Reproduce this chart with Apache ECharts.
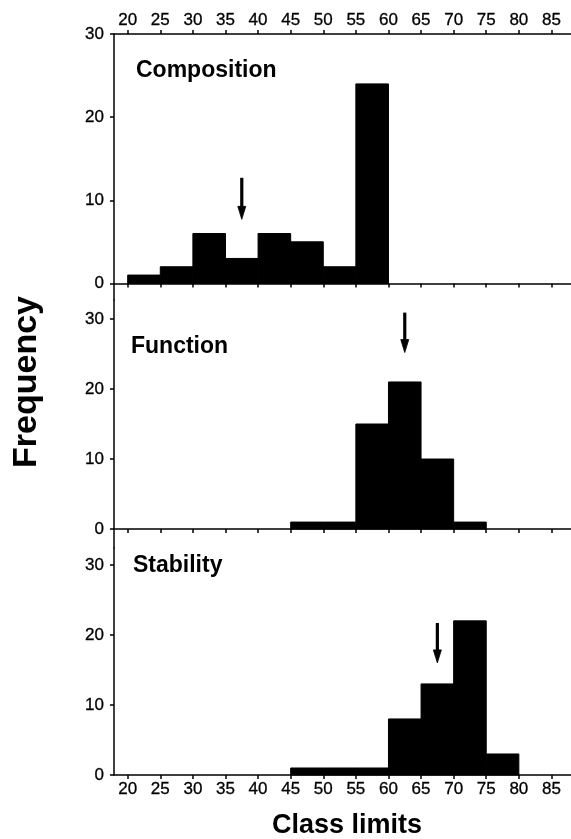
<!DOCTYPE html>
<html>
<head>
<meta charset="utf-8">
<script src="https://cdn.jsdelivr.net/npm/echarts@6/dist/echarts.min.js"></script>
<style>
  html, body { margin: 0; padding: 0; background: #fff; }
  #chart { width: 571px; height: 839px; }
</style>
</head>
<body>
<div id="chart"></div>
<script>
// class limits (bin starts) and frequencies
const binWidth = 5;
const compositionStart = [20, 25, 30, 35, 40, 45, 50, 55];
const compositionFreq = [1, 2, 6, 3, 6, 5, 2, 24];
const functionStart = [45, 50, 55, 60, 65, 70];
const functionFreq = [1, 1, 15, 21, 10, 1];
const stabilityStart = [45, 50, 55, 60, 65, 70, 75];
const stabilityFreq = [1, 1, 1, 8, 13, 22, 3];

// arrows: [x, top of shaft, tip]
const compositionArrow = [37.5, 12.7, 7.7];
const functionArrow = [62.5, 30.9, 25.2];
const stabilityArrow = [67.5, 21.7, 16.0];

const xTicks = [20, 25, 30, 35, 40, 45, 50, 55, 60, 65, 70, 75, 80, 85];
const yTicks = [0, 10, 20, 30];
const panelNames = ['Composition', 'Function', 'Stability'];

const FONT = '"Liberation Sans", Arial, sans-serif';
const axisColor = '#000';

const myChart = echarts.init(document.getElementById('chart'));

function renderBar(params, api) {
  const start = api.value(0);
  const count = api.value(1);
  const p0 = api.coord([start, 0]);
  const p1 = api.coord([start + binWidth, count]);
  return {
    type: 'rect',
    shape: { x: p0[0], y: p1[1], width: p1[0] - p0[0], height: p0[1] - p1[1] },
    style: { fill: '#000', stroke: '#000', lineWidth: 1 }
  };
}

function renderArrow(params, api) {
  const x = api.value(0);
  const top = api.coord([x, api.value(1)]);
  const tip = api.coord([x, api.value(2)]);
  const headLen = 13, headHalf = 4;
  return {
    type: 'group',
    children: [
      { type: 'line', shape: { x1: top[0], y1: top[1], x2: tip[0], y2: tip[1] - headLen + 1 },
        style: { stroke: '#000', lineWidth: 3.2 } },
      { type: 'polygon',
        shape: { points: [[tip[0] - headHalf, tip[1] - headLen], [tip[0] + headHalf, tip[1] - headLen], [tip[0], tip[1]]] },
        style: { fill: '#000', stroke: '#000', lineWidth: 0.8 } }
    ]
  };
}

function xAxisOf(gridIndex, position, showLabels, onZero) {
  return {
    gridIndex: gridIndex,
    type: 'value',
    min: 17.9,
    max: 88,
    position: position,
    axisLine: { show: true, onZero: onZero, lineStyle: { color: axisColor, width: 1.5 } },
    axisTick: { show: true, customValues: xTicks, length: 4, lineStyle: { color: axisColor, width: 1.5 } },
    axisLabel: { show: showLabels, customValues: xTicks, margin: position === 'top' ? 5 : 6,
      fontSize: 17, color: '#000', fontFamily: FONT, textBorderColor: '#000', textBorderWidth: 0.3 },
    splitLine: { show: false }
  };
}

function yAxisOf(gridIndex, min, max) {
  return {
    gridIndex: gridIndex,
    type: 'value',
    min: min,
    max: max,
    axisLine: { show: true, onZero: false, lineStyle: { color: axisColor, width: 1.5 } },
    axisTick: { show: true, customValues: yTicks, length: 4, lineStyle: { color: axisColor, width: 1.5 } },
    axisLabel: { customValues: yTicks, margin: 10, fontSize: 17, color: '#000', fontFamily: FONT,
      textBorderColor: '#000', textBorderWidth: 0.3 },
    splitLine: { show: false }
  };
}

function toPairs(starts, freqs) {
  return starts.map((s, i) => [s, freqs[i]]);
}

myChart.setOption({
  animation: false,
  backgroundColor: '#fff',
  grid: [
    { left: 114, top: 34, width: 461, height: 266 },
    { left: 114, top: 300, width: 461, height: 248 },
    { left: 114, top: 548, width: 461, height: 227 }
  ],
  xAxis: [
    xAxisOf(0, 'top', true, false),
    xAxisOf(0, 'bottom', false, true),
    xAxisOf(1, 'bottom', false, true),
    xAxisOf(2, 'bottom', true, true)
  ],
  yAxis: [
    yAxisOf(0, -2, 30),
    yAxisOf(1, -2.7, 32.7),
    yAxisOf(2, 0, 32.4)
  ],
  graphic: [
    { type: 'text', left: 136, top: 59, style: { text: panelNames[0], font: 'bold 23px ' + FONT, fill: '#000' } },
    { type: 'text', left: 131, top: 335, style: { text: panelNames[1], font: 'bold 23px ' + FONT, fill: '#000' } },
    { type: 'text', left: 133, top: 554, style: { text: panelNames[2], font: 'bold 23px ' + FONT, fill: '#000' } },
    { type: 'text', x: 27, y: 382, rotation: Math.PI / 2,
      style: { text: 'Frequency', font: 'bold 34px ' + FONT, fill: '#000', align: 'center', verticalAlign: 'middle' } },
    { type: 'text', x: 347, y: 826,
      style: { text: 'Class limits', font: 'bold 27px ' + FONT, fill: '#000', align: 'center', verticalAlign: 'middle' } }
  ],
  series: [
    { type: 'custom', xAxisIndex: 1, yAxisIndex: 0, renderItem: renderBar, data: toPairs(compositionStart, compositionFreq) },
    { type: 'custom', xAxisIndex: 2, yAxisIndex: 1, renderItem: renderBar, data: toPairs(functionStart, functionFreq) },
    { type: 'custom', xAxisIndex: 3, yAxisIndex: 2, renderItem: renderBar, data: toPairs(stabilityStart, stabilityFreq) },
    { type: 'custom', xAxisIndex: 1, yAxisIndex: 0, renderItem: renderArrow, data: [compositionArrow] },
    { type: 'custom', xAxisIndex: 2, yAxisIndex: 1, renderItem: renderArrow, data: [functionArrow] },
    { type: 'custom', xAxisIndex: 3, yAxisIndex: 2, renderItem: renderArrow, data: [stabilityArrow] }
  ]
});
</script>
</body>
</html>
